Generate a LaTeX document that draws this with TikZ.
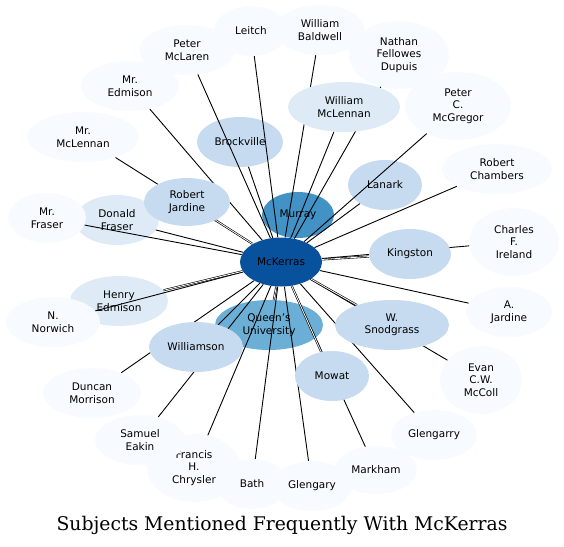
\documentclass[tikz,border=0pt]{standalone}
\usepackage{fontspec}
\setmainfont{DejaVu Sans}
\newfontfamily\titlefont{DejaVu Serif}
\usepackage{tikz}
\usetikzlibrary{shapes.geometric}
\definecolor{blA}{HTML}{F7FBFF}
\definecolor{blB}{HTML}{DEEBF7}
\definecolor{blC}{HTML}{C6DBEF}
\definecolor{blD}{HTML}{6BAED6}
\definecolor{blE}{HTML}{4292C6}
\definecolor{blF}{HTML}{08519C}
\pgfdeclarelayer{lower}
\pgfdeclarelayer{edges}
\pgfsetlayers{lower,edges,main}

\begin{document}
\begin{tikzpicture}[
    x=1pt, y=-1pt,
    ent/.style={ellipse, draw=none, inner sep=0pt, align=center,
                font=\fontsize{10.5}{12.5}\selectfont},
    pale/.style={ent, fill=blA},
    soft/.style={ent, fill=blB},
    mid/.style={ent, fill=blC},
    link/.style={line width=0.9pt, black},
    multi/.style={line width=0.6pt, double, double distance=0.8pt},
  ]
  \useasboundingbox (0,0) rectangle (564,546);

  % --- nodes that the edges run over ---
  \begin{pgfonlayer}{lower}
    \node[ent, fill=blE, minimum width=72, minimum height=46] (murray) at (298,215) {Murray};
    \node[ent, fill=blD, minimum width=108, minimum height=50] (queens) at (269,325) {Queen's\\University};
    \node[mid, minimum width=86, minimum height=50] (brock) at (240,142) {Brockville};
    \node[mid, minimum width=74, minimum height=50] (lanark) at (385,185) {Lanark};
    \node[soft, minimum width=84, minimum height=50] (dfraser) at (117,220) {Donald\\Fraser};
    \node[soft, minimum width=98, minimum height=50] (hedmison) at (119,301) {Henry\\Edmison};

    % outer ring
    \node[pale, minimum width=78, minimum height=50] (mrfraser) at (47,218) {Mr.\\Fraser};
    \node[pale, minimum width=94, minimum height=50] (norwich) at (53,322) {N.\\Norwich};
    \node[pale, minimum width=112, minimum height=50] (mrmclennan) at (83,137) {Mr.\\McLennan};
    \node[pale, minimum width=98, minimum height=50] (mredmison) at (130,86) {Mr.\\Edmison};
    \node[pale, minimum width=96, minimum height=50] (pmclaren) at (187,50) {Peter\\McLaren};
    \node[pale, minimum width=74, minimum height=50] (leitch) at (251,31) {Leitch};
    \node[pale, minimum width=90, minimum height=50] (baldwell) at (320,30) {William\\Baldwell};
    \node[pale, minimum width=100, minimum height=68] (dupuis) at (399,55) {Nathan\\Fellowes\\Dupuis};
    \node[pale, minimum width=106, minimum height=68] (mcgregor) at (458,106) {Peter\\C.\\McGregor};
    \node[pale, minimum width=110, minimum height=50] (chambers) at (497,169) {Robert\\Chambers};
    \node[pale, minimum width=90, minimum height=68] (ireland) at (514,242) {Charles\\F.\\Ireland};
    \node[pale, minimum width=86, minimum height=50] (ajardine) at (509,312) {A.\\Jardine};
    \node[pale, minimum width=82, minimum height=68] (mccoll) at (481,380) {Evan\\C.W.\\McColl};
    \node[pale, minimum width=86, minimum height=50] (glengarry) at (434,435) {Glengarry};
    \node[pale, minimum width=82, minimum height=48] (markham) at (376,470) {Markham};
    \node[pale, minimum width=80, minimum height=50] (glengary) at (312,486) {Glengary};
    \node[pale, minimum width=94, minimum height=68] (chrysler) at (194,468) {Francis\\H.\\Chrysler};
    \node[pale, minimum width=72, minimum height=50] (bath) at (252,484) {Bath};
    \node[pale, minimum width=90, minimum height=50] (eakin) at (140,440) {Samuel\\Eakin};
    \node[pale, minimum width=98, minimum height=50] (dmorrison) at (92,393) {Duncan\\Morrison};
  \end{pgfonlayer}

  % --- nodes drawn over the edges ---
  \node[mid, minimum width=86, minimum height=48] (rjardine) at (187,202) {Robert\\Jardine};
  \node[soft, minimum width=112, minimum height=50] (wmclennan) at (344,107) {William\\McLennan};
  \node[mid, minimum width=82, minimum height=50] (kingston) at (410,254) {Kingston};
  \node[mid, minimum width=114, minimum height=50] (snodgrass) at (392,325) {W.\\Snodgrass};
  \node[mid, minimum width=94, minimum height=50] (williamson) at (196,347) {Williamson};
  \node[mid, minimum width=74, minimum height=50] (mowat) at (332,376) {Mowat};
  \node[ent, fill=blF, minimum width=82, minimum height=49] (mck) at (281,262) {McKerras};

  % --- edges ---
  \begin{pgfonlayer}{edges}
    \foreach \t in {brock, lanark, dfraser, mrfraser, norwich, mrmclennan, mredmison,
                    pmclaren, leitch, baldwell, dupuis, mcgregor, chambers, ireland,
                    ajardine, mccoll, glengarry, markham, glengary, chrysler, bath,
                    eakin, dmorrison, wmclennan, williamson}
      \draw[link] (mck) -- (\t);
    \foreach \t in {murray, queens, rjardine, hedmison, kingston, snodgrass, mowat}
      \draw[multi] (mck) -- (\t);
  \end{pgfonlayer}

  \node[font=\titlefont\fontsize{18.8}{22}\selectfont] (title) at (282,525)
    {Subjects Mentioned Frequently With McKerras};
\end{tikzpicture}
\end{document}
